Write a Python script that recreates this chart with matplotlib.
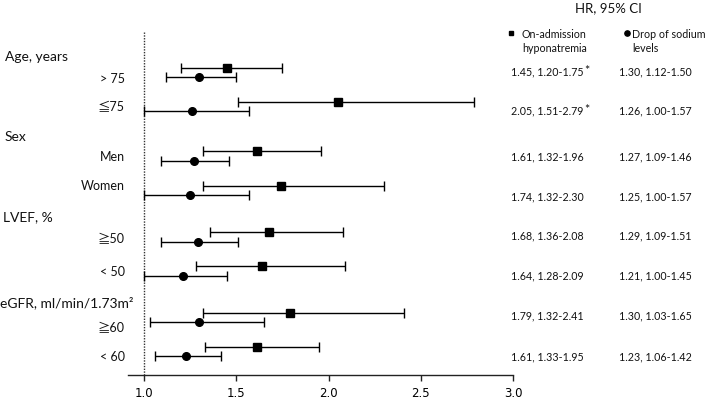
import matplotlib
matplotlib.use("Agg")
import matplotlib.pyplot as plt

# ---- data ----
groups = ["Age, years", "Sex", "LVEF, %", "eGFR, ml/min/1.73m²"]
subgroups = ["> 75", "≦75", "Men", "Women", "≧50", "< 50", "≧60", "< 60"]
hypo_hr = [1.45, 2.05, 1.61, 1.74, 1.68, 1.64, 1.79, 1.61]
hypo_lo = [1.20, 1.51, 1.32, 1.32, 1.36, 1.28, 1.32, 1.33]
hypo_hi = [1.75, 2.79, 1.96, 2.30, 2.08, 2.09, 2.41, 1.95]
drop_hr = [1.30, 1.26, 1.27, 1.25, 1.29, 1.21, 1.30, 1.23]
drop_lo = [1.12, 1.00, 1.09, 1.00, 1.09, 1.00, 1.03, 1.06]
drop_hi = [1.50, 1.57, 1.46, 1.57, 1.51, 1.45, 1.65, 1.42]
hypo_sig = [True, True, False, False, False, False, False, False]
xticks = [1.0, 1.5, 2.0, 2.5, 3.0]

# ---- layout (pixels from top) ----
W, H = 709, 402
row_center = [73.2, 107.3, 157.0, 191.5, 238.0, 272.0, 318.7, 352.7]
row_off = 4.7
label_y = [79, 107, 157, 186, 239, 271.7, 327.7, 356.7]
value_y = [71.7, 111, 156.7, 196.7, 235.7, 276, 316, 356.7]
header_y = [57, 137, 216.7, 302.3]
header_x = [5, 5, 3, 0]
axis_y = 375.7

FONT = ["Lato", "Noto Sans CJK JP", "DejaVu Sans"]
plt.rcParams["font.family"] = FONT

fig = plt.figure(figsize=(W / 100, H / 100), dpi=100)
x_left_px, x_right_px = 128, 513
ax = fig.add_axes([x_left_px / W, (H - axis_y) / H,
                   (x_right_px - x_left_px) / W, axis_y / H])
px_per_unit = 184.5
ax.set_xlim(1.0 - (144 - x_left_px) / px_per_unit, 3.0)
ax.set_ylim(axis_y, 0)

for s in ["top", "right", "left"]:
    ax.spines[s].set_visible(False)
ax.spines["bottom"].set_linewidth(1.0)
ax.spines["bottom"].set_color("#222222")
ax.set_yticks([])
ax.set_xticks(xticks)
ax.set_xticklabels([f"{t:.1f}" for t in xticks],
                   fontfamily=["Liberation Sans Narrow", "DejaVu Sans"], fontsize=8.5)
ax.tick_params(axis="x", direction="out", length=4, width=1.0, color="#222222", pad=4)
ax.patch.set_alpha(0)

# reference line
ax.plot([1.0, 1.0], [33, axis_y], ls=(0, (1, 1)), color="#333333", lw=1.0, clip_on=False)

sq_y = [c - row_off for c in row_center]
ci_y = [c + row_off for c in row_center]
ax.errorbar(hypo_hr, sq_y,
            xerr=[[h - l for h, l in zip(hypo_hr, hypo_lo)], [u - h for h, u in zip(hypo_hr, hypo_hi)]],
            fmt="s", color="black", ms=5.6, capsize=3.3, elinewidth=1.0, capthick=1.0, clip_on=False)
ax.errorbar(drop_hr, ci_y,
            xerr=[[h - l for h, l in zip(drop_hr, drop_lo)], [u - h for h, u in zip(drop_hr, drop_hi)]],
            fmt="o", color="black", ms=5.5, capsize=3.3, elinewidth=1.0, capthick=1.0, clip_on=False)


def ftext(x, y, s, **kw):
    return fig.text(x / W, 1 - y / H, s, **kw)


for g, gx, gy in zip(groups, header_x, header_y):
    ftext(gx, gy, g, fontsize=10, ha="left", va="center", color="#111111")
for lab, ly in zip(subgroups, label_y):
    ftext(125, ly, lab, fontsize=9, ha="right", va="center", color="#111111")

# right-hand columns
ftext(608, 8, "HR, 95% CI", fontsize=9.5, ha="center", va="center", color="#111111")
fig.lines.append(plt.Line2D([511 / W], [1 - 34 / H], marker="s", ms=3.5, color="black",
                            transform=fig.transFigure))
fig.lines.append(plt.Line2D([627 / W], [1 - 34 / H], marker="o", ms=3.8, color="black",
                            transform=fig.transFigure))
ftext(522, 34, "On-admission", fontsize=7.7, ha="left", va="center", color="#111111")
ftext(522, 49, "hyponatremia", fontsize=7.7, ha="left", va="center", color="#111111")
ftext(632, 34, "Drop of sodium", fontsize=7.7, ha="left", va="center", color="#111111")
ftext(632, 49, "levels", fontsize=7.7, ha="left", va="center", color="#111111")

for i, vy in enumerate(value_y):
    t1 = f"{hypo_hr[i]:.2f}, {hypo_lo[i]:.2f}-{hypo_hi[i]:.2f}"
    ftext(511, vy, t1, fontsize=7.7, ha="left", va="center", color="#111111")
    if hypo_sig[i]:
        ftext(584, vy - 1, "*", fontsize=9, ha="left", va="center", color="#111111")
    t2 = f"{drop_hr[i]:.2f}, {drop_lo[i]:.2f}-{drop_hi[i]:.2f}"
    ftext(619, vy, t2, fontsize=7.7, ha="left", va="center", color="#111111")

fig.savefig("out.png", dpi=100)
